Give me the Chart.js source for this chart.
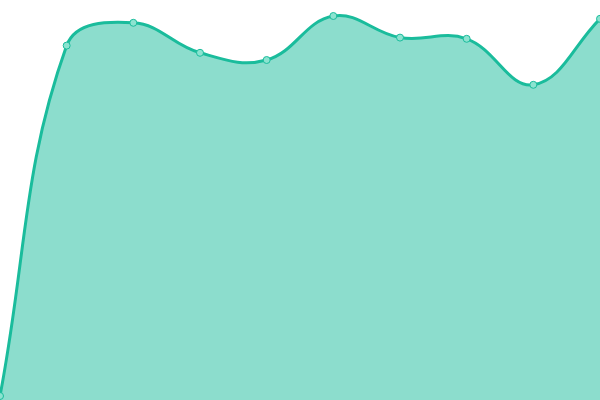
<!DOCTYPE html>
<html>
<head>
<meta charset="utf-8">
<script src="https://cdn.jsdelivr.net/npm/chart.js@4"></script>
<style>
  html, body { margin: 0; padding: 0; background: #fff; }
  #wrap { width: 600px; height: 400px; }
</style>
</head>
<body>
<div id="wrap"><canvas id="areaChart"></canvas></div>
<script>
// values (scale 0..100)
const labels = ['1', '2', '3', '4', '5', '6', '7', '8', '9', '10'];
const values = [1, 88.6, 94.3, 86.8, 85, 96, 90.6, 90.3, 78.8, 95.3];

const ctx = document.getElementById('areaChart').getContext('2d');
const areaChart = new Chart(ctx, {
  type: 'line',
  data: {
    labels: labels,
    datasets: [{
      data: values,
      borderColor: '#1abc9c',
      backgroundColor: 'rgba(26, 188, 156, 0.5)',
      borderWidth: 3,
      fill: 'origin',
      tension: 0.4,
      pointRadius: 3.5,
      pointBorderWidth: 1,
      pointBackgroundColor: '#8ce3d0',
      pointBorderColor: '#1abc9c'
    }]
  },
  options: {
    responsive: true,
    maintainAspectRatio: false,
    animation: false,
    layout: { padding: 0, autoPadding: false },
    plugins: { legend: { display: false }, tooltip: { enabled: false } },
    scales: {
      x: { display: false },
      y: { display: false, min: 0, max: 100 }
    }
  }
});
</script>
</body>
</html>
